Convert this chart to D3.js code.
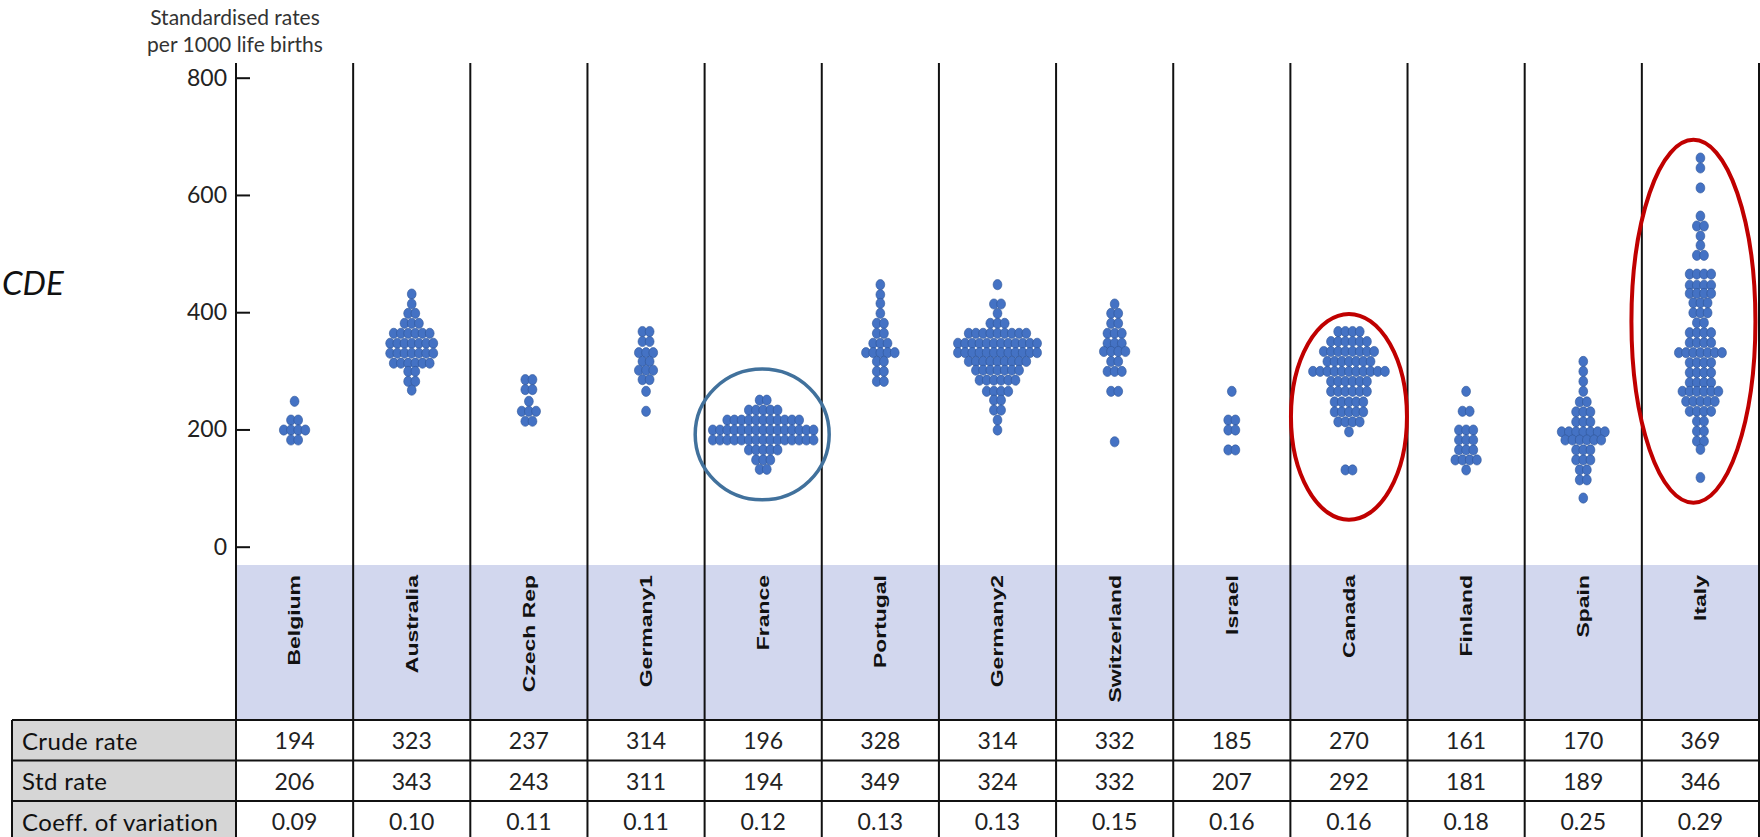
<!DOCTYPE html>
<html>
<head>
<meta charset="utf-8">
<script src="https://cdn.jsdelivr.net/npm/d3@7"></script>
<style>
  body { margin: 0; background: #fff; }
  svg { display: block; }
</style>
</head>
<body>
<svg id="chart" width="1760" height="837"></svg>
<script>
// ---- data -------------------------------------------------------------
const countries = ["Belgium", "Australia", "Czech Rep", "Germany1", "France", "Portugal",
  "Germany2", "Switzerland", "Israel", "Canada", "Finland", "Spain", "Italy"];

const crudeRate = [194, 323, 237, 314, 196, 328, 314, 332, 185, 270, 161, 170, 369];
const stdRate   = [206, 343, 243, 311, 194, 349, 324, 332, 207, 292, 181, 189, 346];
const coeffVar  = [0.09, 0.10, 0.11, 0.11, 0.12, 0.13, 0.13, 0.15, 0.16, 0.16, 0.18, 0.25, 0.29];

const yTicks = [0, 200, 400, 600, 800];

// regional standardised rates, grouped in rows: [rate, number of regions]
const belgium     = [[248, 1], [216, 2], [199, 4], [182, 2]];
const australia   = [[431, 1], [414, 1], [398, 2], [381, 3], [364, 6], [347, 7], [330, 7],
                     [313, 6], [299, 2], [282, 2], [267, 1]];
const czechRep    = [[285, 2], [268, 2], [248, 1], [231, 3], [214, 2]];
const germany1    = [[367, 2], [350, 2], [331, 3], [316, 2], [301, 3], [285, 2], [265, 1], [231, 1]];
const france      = [[250, 2], [233, 5], [216, 11], [199, 15], [182, 15], [165, 5], [148, 3], [132, 2]];
const portugal    = [[447, 1], [430, 1], [415, 1], [398, 1], [381, 2], [364, 2], [347, 3],
                     [331, 5], [316, 2], [299, 2], [282, 2]];
const germany2    = [[447, 1], [414, 2], [398, 1], [381, 3], [364, 9], [347, 12], [331, 12],
                     [316, 9], [301, 7], [284, 6], [265, 4], [250, 2], [233, 2], [216, 1], [199, 1]];
const switzerland = [[414, 1], [398, 2], [381, 2], [364, 3], [347, 3], [333, 4], [316, 2],
                     [299, 3], [265, 2], [179, 1]];
const israel      = [[265, 1], [216, 2], [199, 2], [165, 2]];
const canada      = [[367, 4], [350, 6], [333, 8], [316, 7], [299, 11], [282, 6], [265, 6],
                     [247, 5], [230, 5], [213, 4], [196, 1], [131, 2]];
const finland     = [[265, 1], [231, 2], [199, 3], [182, 3], [165, 3], [148, 4], [131, 1]];
const spain       = [[316, 1], [299, 1], [282, 1], [265, 1], [247, 2], [230, 3], [213, 3],
                     [196, 7], [182, 6], [165, 3], [148, 3], [131, 2], [114, 2], [83, 1]];
const italy       = [[663, 1], [646, 1], [612, 1], [564, 1], [547, 2], [530, 1], [514, 1],
                     [497, 2], [465, 4], [446, 4], [432, 4], [416, 3], [399, 3], [382, 2],
                     [365, 4], [348, 4], [331, 7], [314, 4], [297, 4], [280, 4], [265, 6],
                     [248, 5], [231, 4], [214, 2], [197, 2], [180, 2], [166, 1], [118, 1]];

const regionRows = [belgium, australia, czechRep, germany1, france, portugal, germany2,
  switzerland, israel, canada, finland, spain, italy];

// highlighted groups: country, rate span covered by the outline
const highlightCountry = ["France", "Canada", "Italy"];
const highlightSpan    = [[80, 303], [46, 397], [75, 694]];

// ---- layout -----------------------------------------------------------
const W = 1760, H = 837;
const axisX = 236, rightX = 1759;
const plotTop = 63;
const bandTop = 565;
const tableTop = 720;
const rowH = 40.5;
const labelLeft = 12;

const blue = "#4472c4";
const dotStroke = "#2f5597";
const bandFill = "#d2d7ee";
const labelFill = "#d6d6d6";

const svg = d3.select("#chart");

const x = d3.scaleBand().domain(countries).range([axisX, rightX]).padding(0);
const y = d3.scaleLinear().domain([0, 800]).range([546.7, 77.7]);
const cx = c => x(c) + x.bandwidth() / 2;

// category band under the plot
svg.append("rect")
  .attr("x", axisX).attr("y", bandTop)
  .attr("width", W - axisX).attr("height", tableTop - bandTop)
  .attr("fill", bandFill);

// grey header cells of the table
const tableRows = [
  { label: "Crude rate", values: crudeRate, fmt: d3.format("d") },
  { label: "Std rate", values: stdRate, fmt: d3.format("d") },
  { label: "Coeff. of variation", values: coeffVar, fmt: d3.format(".2f") }
];

svg.append("rect")
  .attr("x", labelLeft).attr("y", tableTop)
  .attr("width", axisX - labelLeft).attr("height", H - tableTop)
  .attr("fill", labelFill);

// ---- dots -------------------------------------------------------------
const dotStep = 7.2;
const dots = [];
countries.forEach((c, i) => {
  regionRows[i].forEach(([rate, n]) => {
    for (let k = 0; k < n; k++) {
      dots.push({ country: c, rate, offset: (k - (n - 1) / 2) * dotStep });
    }
  });
});

svg.append("g").selectAll("ellipse")
  .data(dots)
  .join("ellipse")
  .attr("cx", d => cx(d.country) + d.offset)
  .attr("cy", d => y(d.rate))
  .attr("rx", 4.4)
  .attr("ry", 5.1)
  .attr("fill", blue)
  .attr("stroke", dotStroke)
  .attr("stroke-width", 0.6);

// ---- grid lines ---------------------------------------------------------
const grid = svg.append("g").attr("stroke", "#111").attr("stroke-width", 2);
d3.range(countries.length + 1).forEach(i => {
  const gx = i < countries.length ? x(countries[i]) : rightX;
  grid.append("line")
    .attr("x1", gx).attr("x2", gx)
    .attr("y1", plotTop).attr("y2", H);
});
grid.append("line")
  .attr("x1", labelLeft).attr("x2", labelLeft)
  .attr("y1", tableTop).attr("y2", H);
tableRows.forEach((r, k) => {
  const ly = tableTop + k * rowH;
  grid.append("line")
    .attr("x1", labelLeft).attr("x2", W)
    .attr("y1", ly).attr("y2", ly);
});

// ---- y axis -------------------------------------------------------------
const yAxis = d3.axisLeft(y)
  .tickValues(yTicks)
  .tickSize(-14)
  .tickPadding(9)
  .tickFormat(d3.format("d"));

const ax = svg.append("g")
  .attr("transform", `translate(${axisX},0)`)
  .call(yAxis);
ax.select(".domain").remove();
ax.selectAll(".tick line").attr("stroke", "#111").attr("stroke-width", 2);
ax.selectAll(".tick text")
  .attr("font-family", "Lato, sans-serif")
  .attr("font-size", 23)
  .attr("fill", "#222");

// axis title
svg.append("text")
  .attr("x", 235).attr("y", 20)
  .attr("text-anchor", "middle")
  .attr("dominant-baseline", "middle")
  .attr("font-family", "Lato, sans-serif")
  .attr("font-size", 21)
  .attr("fill", "#333")
  .selectAll("tspan")
  .data(["Standardised rates", "per 1000 life births"])
  .join("tspan")
  .attr("x", 235)
  .attr("dy", (d, i) => i === 0 ? 0 : 27)
  .text(d => d);

// side label
svg.append("text")
  .attr("x", 2).attr("y", 295)
  .attr("text-anchor", "start")
  .attr("font-family", "Lato, sans-serif")
  .attr("font-style", "italic")
  .attr("font-size", 33)
  .attr("fill", "#111")
  .text("CDE");

// ---- country labels in the band ------------------------------------------
svg.append("g").selectAll("text")
  .data(countries)
  .join("text")
  .attr("transform", d => `translate(${cx(d)},575) rotate(-90) scale(1.35,1)`)
  .attr("text-anchor", "end")
  .attr("dominant-baseline", "central")
  .attr("font-family", "'Liberation Sans', Arial, sans-serif")
  .attr("font-weight", "bold")
  .attr("font-size", 17)
  .attr("fill", "#111")
  .text(d => d);

// ---- highlight outlines ----------------------------------------------------
highlightCountry.forEach((c, i) => {
  const [lo, hi] = highlightSpan[i];
  const isBlue = i === 0;
  const ry = (y(lo) - y(hi)) / 2;
  svg.append("ellipse")
    .attr("cx", isBlue ? cx(c) - 1 : (c === "Italy" ? cx(c) - 7 : cx(c)))
    .attr("cy", (y(lo) + y(hi)) / 2)
    .attr("rx", isBlue ? 67 : (c === "Italy" ? 62 : 58))
    .attr("ry", ry)
    .attr("fill", "none")
    .attr("stroke", isBlue ? "#41719c" : "#c00000")
    .attr("stroke-width", isBlue ? 3.5 : 4);
});

// ---- table -----------------------------------------------------------------
tableRows.forEach((r, k) => {
  const my = tableTop + k * rowH + rowH / 2;
  svg.append("text")
    .attr("x", 22).attr("y", my)
    .attr("dominant-baseline", "central")
    .attr("font-family", "Lato, sans-serif")
    .attr("font-size", 24)
    .attr("letter-spacing", 0.4)
    .attr("fill", "#111")
    .text(r.label);

  svg.append("g").selectAll("text")
    .data(countries)
    .join("text")
    .attr("x", d => cx(d))
    .attr("y", my)
    .attr("text-anchor", "middle")
    .attr("dominant-baseline", "central")
    .attr("font-family", "Lato, sans-serif")
    .attr("font-size", 23)
    .attr("fill", "#222")
    .text((d, j) => r.fmt(r.values[j]));
});
</script>
</body>
</html>
